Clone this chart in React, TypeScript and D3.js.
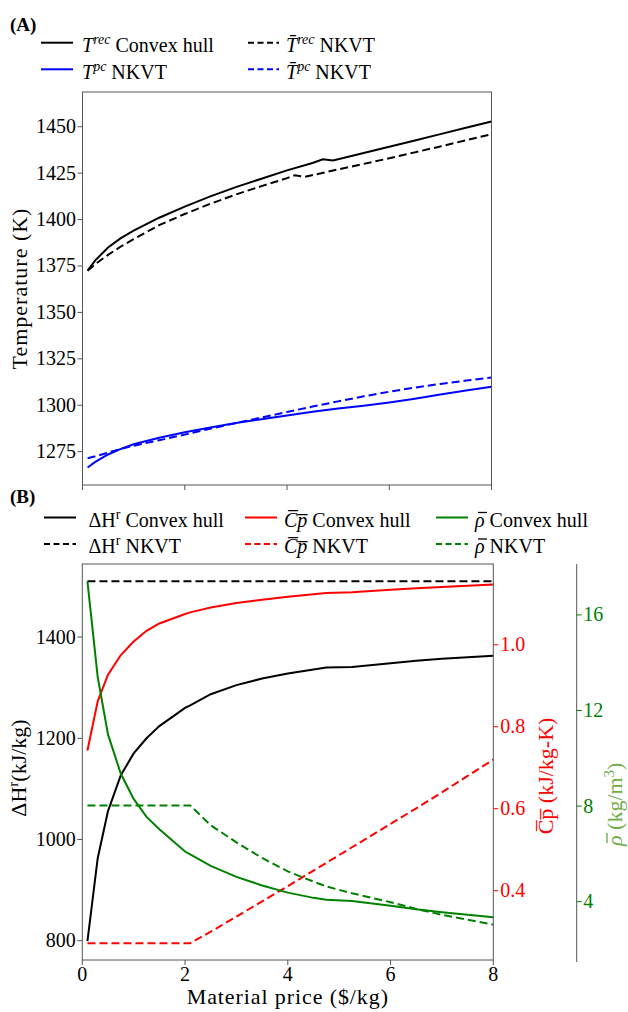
import React from "react";
import * as d3 from "d3";

// ---------- Panel A data ----------
const T_REC_X = [0.1, 0.25, 0.5, 0.75, 1, 1.5, 2, 2.5, 3, 3.5, 4, 4.5, 4.7, 4.9, 5.5, 6, 6.5, 7, 7.5, 8];
const T_REC = [1372.5, 1378, 1385, 1390, 1394, 1401, 1407, 1412.5, 1417.5, 1422, 1426.5, 1430.5, 1432.5, 1431.8, 1435.8, 1439.2, 1442.6, 1446, 1449.4, 1452.8];
const T_BAR_REC_X = [0.1, 0.25, 0.5, 0.75, 1, 1.5, 2, 2.5, 3, 3.5, 4, 4.15, 4.35, 5, 5.5, 6, 6.5, 7, 7.5, 8];
const T_BAR_REC = [1372.5, 1376, 1381, 1385.5, 1389.5, 1397, 1403, 1408.5, 1413.5, 1418, 1422.3, 1423.8, 1423, 1427, 1430, 1433, 1436.2, 1439.4, 1442.7, 1446];
const T_PC_X = [0.1, 0.25, 0.5, 0.75, 1, 1.5, 2, 2.5, 3, 3.5, 4, 4.5, 5, 5.5, 6, 6.5, 7, 7.5, 8];
const T_PC = [1266.5, 1269.5, 1273.5, 1276.5, 1279, 1282.5, 1285.5, 1288, 1290.5, 1292.5, 1294.5, 1296.5, 1298.3, 1299.8, 1301.5, 1303.5, 1305.8, 1307.9, 1310];
const T_BAR_PC = [1271.5, 1272.5, 1274.5, 1276.5, 1278.2, 1281.2, 1284.2, 1287.4, 1290.4, 1293.4, 1296.4, 1299.3, 1302.1, 1304.8, 1307.3, 1309.5, 1311.5, 1313.3, 1315];
const A_Y_TICKS = [1275, 1300, 1325, 1350, 1375, 1400, 1425, 1450];

// ---------- Panel B data ----------
const X_B = [0.1, 0.3, 0.5, 0.75, 1, 1.25, 1.5, 2, 2.1, 2.5, 3, 3.5, 4, 4.5, 4.75, 5.25, 6, 6.5, 7, 7.5, 8];
const DH_HULL = [799, 963, 1056, 1127, 1170, 1200, 1224, 1260, 1265, 1287, 1305, 1318, 1328, 1336, 1340, 1341, 1348, 1353, 1357, 1360, 1363];
const DH_NKVT = [1510, 1510, 1510, 1510, 1510, 1510, 1510, 1510, 1510, 1510, 1510, 1510, 1510, 1510, 1510, 1510, 1510, 1510, 1510, 1510, 1510];
const CP_HULL = [0.742, 0.862, 0.927, 0.975, 1.008, 1.034, 1.052, 1.075, 1.079, 1.091, 1.102, 1.11, 1.117, 1.123, 1.126, 1.128, 1.134, 1.138, 1.141, 1.144, 1.147];
const CP_NKVT = [0.272, 0.272, 0.272, 0.272, 0.272, 0.272, 0.272, 0.272, 0.272, 0.3, 0.337, 0.374, 0.411, 0.449, 0.468, 0.506, 0.563, 0.601, 0.64, 0.68, 0.72];
const RHO_HULL = [17.4, 13.4, 11.0, 9.35, 8.3, 7.55, 7.03, 6.1, 5.98, 5.5, 5.04, 4.68, 4.38, 4.16, 4.08, 4.03, 3.83, 3.68, 3.56, 3.45, 3.35];
const RHO_NKVT = [8.03, 8.03, 8.03, 8.03, 8.03, 8.03, 8.03, 8.03, 8.03, 7.2, 6.48, 5.83, 5.27, 4.84, 4.64, 4.35, 3.98, 3.7, 3.45, 3.25, 3.04];
const X_TICKS = [0, 2, 4, 6, 8];
const DH_TICKS = [800, 1000, 1200, 1400];
const CP_TICKS = [0.4, 0.6, 0.8, 1.0];
const RHO_TICKS = [4, 8, 12, 16];

const FONT = "Liberation Serif, DejaVu Serif, serif";
const SPINE = "#555";
const DASH = "8,4";
const TBAR = "T\u0304";
const CPBAR = "C\u0305p\u0305";

function pathOf(xs: number[], ys: number[], sx: any, sy: any) {
  const line = d3.line<number>().x((_, i) => sx(xs[i])).y((v) => sy(v));
  return line(ys) || "";
}

function RhoBar({ x, y, color }: { x: number; y: number; color: string }) {
  return <line x1={x + 3} x2={x + 12} y1={y - 14} y2={y - 14} stroke={color} strokeWidth={1.3} />;
}

export default function App() {
  const aL = 82.5, aR = 491.5, aT = 92, aB = 485;
  const axA = d3.scaleLinear().domain([0, 8]).range([aL, aR]);
  const ayA = d3.scaleLinear().domain([1257.06, 1468.7]).range([aB, aT]);

  const bL = 82.3, bR = 493.3, bT = 564, bB = 960;
  const gX = 576.7;
  const bx = d3.scaleLinear().domain([0, 8]).range([bL, bR]);
  const yDH = d3.scaleLinear().domain([761.9, 1544.3]).range([bB, bT]);
  const yCP = d3.scaleLinear().domain([0.231, 1.197]).range([bB, bT]);
  const yRHO = d3.scaleLinear().domain([1.56, 18.13]).range([bB, bT]);

  const fmt1 = d3.format(".1f");

  return (
    <div style={{ position: "absolute", left: 0, top: 0 }}>
      <svg width={628} height={1012} style={{ display: "block" }}>
        <rect x={0} y={0} width={628} height={1012} fill="#fff" />
        <g fontFamily={FONT}>
          {/* ===== Panel A ===== */}
          <text x={10} y={31} fontSize={19} fontWeight="bold">(A)</text>
          <line x1={41} x2={73} y1={42.7} y2={42.7} stroke="#000" strokeWidth={2} />
          <text x={82} y={51.5} fontSize={20}>
            <tspan fontStyle="italic">T</tspan>
            <tspan fontStyle="italic" fontSize={14} dy={-8}>rec</tspan>
            <tspan dy={8}> Convex hull</tspan>
          </text>
          <line x1={248} x2={279} y1={42.7} y2={42.7} stroke="#000" strokeWidth={2} strokeDasharray="6,3.5" />
          <text x={286} y={51.5} fontSize={20}>
            <tspan fontStyle="italic">{TBAR}</tspan>
            <tspan fontStyle="italic" fontSize={14} dy={-8}>rec</tspan>
            <tspan dy={8}> NKVT</tspan>
          </text>
          <line x1={41} x2={73} y1={69.3} y2={69.3} stroke="#0000ff" strokeWidth={2} />
          <text x={82} y={78.5} fontSize={20}>
            <tspan fontStyle="italic">T</tspan>
            <tspan fontStyle="italic" fontSize={14} dy={-8}>pc</tspan>
            <tspan dy={8}> NKVT</tspan>
          </text>
          <line x1={248} x2={279} y1={69.3} y2={69.3} stroke="#0000ff" strokeWidth={2} strokeDasharray="6,3.5" />
          <text x={286} y={78.5} fontSize={20}>
            <tspan fontStyle="italic">{TBAR}</tspan>
            <tspan fontStyle="italic" fontSize={14} dy={-8}>pc</tspan>
            <tspan dy={8}> NKVT</tspan>
          </text>

          <g fill="none" strokeWidth={2}>
            <path d={pathOf(T_REC_X, T_REC, axA, ayA)} stroke="#000" />
            <path d={pathOf(T_BAR_REC_X, T_BAR_REC, axA, ayA)} stroke="#000" strokeDasharray={DASH} />
            <path d={pathOf(T_PC_X, T_PC, axA, ayA)} stroke="#0000ff" />
            <path d={pathOf(T_PC_X, T_BAR_PC, axA, ayA)} stroke="#0000ff" strokeDasharray={DASH} />
          </g>
          <rect x={aL} y={aT} width={aR - aL} height={aB - aT} fill="none" stroke={SPINE} strokeWidth={1} />
          {A_Y_TICKS.map((t) => (
            <g key={"ay" + t}>
              <line x1={aL - 5} x2={aL} y1={ayA(t)} y2={ayA(t)} stroke={SPINE} />
              <text x={aL - 6.5} y={ayA(t) + 6.5} fontSize={20} textAnchor="end">{t}</text>
            </g>
          ))}
          {X_TICKS.map((t) => (
            <line key={"axt" + t} x1={axA(t)} x2={axA(t)} y1={aB} y2={aB + 5} stroke={SPINE} />
          ))}
          <text transform={`translate(27,${(aT + aB) / 2}) rotate(-90)`} fontSize={22} letterSpacing={1} textAnchor="middle">
            Temperature (K)
          </text>

          {/* ===== Panel B ===== */}
          <text x={10} y={503} fontSize={19} fontWeight="bold">(B)</text>
          <line x1={44} x2={76} y1={517.5} y2={517.5} stroke="#000" strokeWidth={2} />
          <text x={88.5} y={526.5} fontSize={20}>
            <tspan>ΔH</tspan>
            <tspan fontSize={14} dy={-8}>r</tspan>
            <tspan dy={8}> Convex hull</tspan>
          </text>
          <line x1={245} x2={277} y1={517.5} y2={517.5} stroke="#ff0000" strokeWidth={2} />
          <text x={284} y={526.5} fontSize={20}>
            <tspan fontStyle="italic">{CPBAR}</tspan>
            <tspan> Convex hull</tspan>
          </text>
          <line x1={436} x2={468} y1={517.5} y2={517.5} stroke="#008000" strokeWidth={2} />
          <text x={475} y={526.5} fontSize={20}>
            <tspan fontStyle="italic">ρ</tspan>
            <tspan> Convex hull</tspan>
          </text>
          <RhoBar x={475} y={526.5} color="#000" />
          <line x1={44} x2={76} y1={544} y2={544} stroke="#000" strokeWidth={2} strokeDasharray="6,3.5" />
          <text x={88.5} y={553} fontSize={20}>
            <tspan>ΔH</tspan>
            <tspan fontSize={14} dy={-8}>r</tspan>
            <tspan dy={8}>  NKVT</tspan>
          </text>
          <line x1={245} x2={277} y1={544} y2={544} stroke="#ff0000" strokeWidth={2} strokeDasharray="6,3.5" />
          <text x={284} y={553} fontSize={20}>
            <tspan fontStyle="italic">{CPBAR}</tspan>
            <tspan> NKVT</tspan>
          </text>
          <line x1={436} x2={468} y1={544} y2={544} stroke="#008000" strokeWidth={2} strokeDasharray="6,3.5" />
          <text x={475} y={553} fontSize={20}>
            <tspan fontStyle="italic">ρ</tspan>
            <tspan> NKVT</tspan>
          </text>
          <RhoBar x={475} y={553} color="#000" />

          <g fill="none" strokeWidth={2}>
            <path d={pathOf(X_B, DH_HULL, bx, yDH)} stroke="#000" />
            <path d={pathOf(X_B, DH_NKVT, bx, yDH)} stroke="#000" strokeDasharray={DASH} />
            <path d={pathOf(X_B, CP_HULL, bx, yCP)} stroke="#ff0000" />
            <path d={pathOf(X_B, CP_NKVT, bx, yCP)} stroke="#ff0000" strokeDasharray={DASH} />
            <path d={pathOf(X_B, RHO_HULL, bx, yRHO)} stroke="#008000" />
            <path d={pathOf(X_B, RHO_NKVT, bx, yRHO)} stroke="#008000" strokeDasharray={DASH} />
          </g>

          <rect x={bL} y={bT} width={bR - bL} height={bB - bT} fill="none" stroke={SPINE} strokeWidth={1} />
          {DH_TICKS.map((t) => (
            <g key={"dh" + t}>
              <line x1={bL - 5} x2={bL} y1={yDH(t)} y2={yDH(t)} stroke={SPINE} />
              <text x={bL - 6.5} y={yDH(t) + 6.5} fontSize={20} textAnchor="end">{t}</text>
            </g>
          ))}
          {X_TICKS.map((t) => (
            <g key={"bx" + t}>
              <line x1={bx(t)} x2={bx(t)} y1={bB} y2={bB + 5} stroke={SPINE} />
              <text x={bx(t)} y={981} fontSize={20} textAnchor="middle">{t}</text>
            </g>
          ))}
          {CP_TICKS.map((t) => (
            <g key={"cp" + t}>
              <line x1={bR} x2={bR + 5} y1={yCP(t)} y2={yCP(t)} stroke="#ff0000" />
              <text x={bR + 7} y={yCP(t) + 6.5} fontSize={20} fill="#ff0000">{fmt1(t)}</text>
            </g>
          ))}
          <line x1={gX} x2={gX} y1={bT} y2={bB + 2} stroke={SPINE} strokeWidth={1} />
          {RHO_TICKS.map((t) => (
            <g key={"rho" + t}>
              <line x1={gX} x2={gX + 5} y1={yRHO(t)} y2={yRHO(t)} stroke="#008000" />
              <text x={gX + 6.5} y={yRHO(t) + 6.5} fontSize={20} fill="#008000">{t}</text>
            </g>
          ))}

          <text x={(bL + bR) / 2} y={1004} fontSize={22} letterSpacing={0.9} textAnchor="middle">
            Material price ($/kg)
          </text>
          <text transform={`translate(26,${(bT + bB) / 2 + 6}) rotate(-90)`} fontSize={22} textAnchor="middle">
            <tspan>ΔH</tspan>
            <tspan fontSize={15} dy={-8}>r</tspan>
            <tspan dy={8}>(kJ/kg)</tspan>
          </text>
          <text transform={`translate(553,${(bT + bB) / 2 + 14}) rotate(-90)`} fontSize={22} textAnchor="middle" fill="#ff0000">
            <tspan>{CPBAR}</tspan>
            <tspan> (kJ/kg-K)</tspan>
          </text>
          <g transform="translate(622,846) rotate(-90)" fill="#70ad47">
            <text x={0} y={0} fontSize={22}>
              <tspan fontStyle="italic">ρ</tspan>
              <tspan> (kg/m</tspan>
              <tspan fontSize={15} dy={-8}>3</tspan>
              <tspan dy={8}>)</tspan>
            </text>
            <line x1={3} x2={13} y1={-15} y2={-15} stroke="#70ad47" strokeWidth={1.4} />
          </g>
        </g>
      </svg>
    </div>
  );
}
